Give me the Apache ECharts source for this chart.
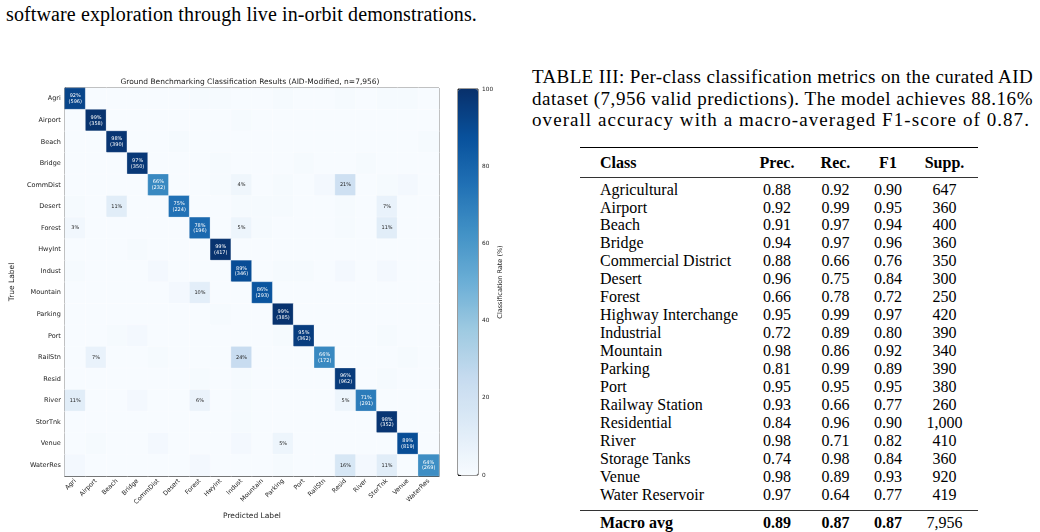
<!DOCTYPE html>
<html>
<head>
<meta charset="utf-8">
<script src="https://cdn.jsdelivr.net/npm/echarts@6/dist/echarts.min.js"></script>
<style>
  body { margin: 0; width: 1040px; height: 532px; overflow: hidden; background: #fff;
         font-family: "Liberation Serif", "Times New Roman", serif; color: #000; position: relative; }
  #chartConfusion { position: absolute; left: 0; top: 0; width: 520px; height: 532px; }
  .topline { position: absolute; left: 6px; top: 4px; font-size: 20px; line-height: 20px; white-space: nowrap; }
  .caption { position: absolute; left: 532px; top: 66px; width: 501px; font-size: 19px; line-height: 21.7px; }
  .caption div { white-space: nowrap; }
  .rule { position: absolute; left: 580px; width: 398px; }
  .row { position: absolute; left: 580px; width: 398px; height: 18px; line-height: 18px; font-size: 16px;
         display: grid; grid-template-columns: 168px 58px 59px 46px 67px; }
  .row span { text-align: center; }
  .row span:first-child { text-align: left; padding-left: 20px; }
  .row.bold { font-weight: bold; }
</style>
</head>
<body>
<div class="topline" id="topline">software exploration through live in-orbit demonstrations.</div>
<div id="chartConfusion"></div>
<div class="caption">
  <div class="cl" data-w="501">TABLE III: Per-class classification metrics on the curated AID</div>
  <div class="cl" data-w="501">dataset (7,956 valid predictions). The model achieves 88.16%</div>
  <div class="cl" data-w="498">overall accuracy with a macro-averaged F1-score of 0.87.</div>
</div>
<div id="metricsTable"></div>
<script>
// confusion matrix (row-normalised %, true label = row)
const classes = ["Agri", "Airport", "Beach", "Bridge", "CommDist", "Desert", "Forest", "HwyInt", "Indust",
    "Mountain", "Parking", "Port", "RailStn", "Resid", "River", "StorTnk", "Venue", "WaterRes"];
const diagCounts = [596, 358, 390, 350, 232, 224, 196, 417, 346, 293, 385, 362, 172, 962, 291, 352, 819, 269];
const pctRows = [
    [92, 0, 0, 0, 0, 0, 1, 1, 0, 0, 1, 0, 0, 1, 0, 1, 1, 0],
    [0, 99, 0, 0, 0, 0, 0, 0, 1, 0, 0, 0, 0, 0, 0, 0, 0, 0],
    [0, 0, 98, 0, 0, 1, 0, 0, 0, 0, 0, 0, 0, 0, 0, 0, 0, 1],
    [0, 0, 0, 97, 0, 0, 0, 1, 0, 0, 0, 1, 0, 0, 1, 0, 0, 0],
    [0, 0, 0, 0, 66, 0, 0, 1, 4, 0, 1, 0, 2, 21, 0, 1, 2, 0],
    [1, 0, 11, 0, 0, 75, 0, 0, 1, 1, 1, 0, 0, 1, 0, 7, 0, 0],
    [3, 0, 0, 0, 0, 0, 78, 0, 5, 1, 0, 0, 0, 1, 0, 11, 0, 0],
    [0, 0, 0, 1, 0, 0, 0, 99, 0, 0, 0, 0, 0, 0, 0, 0, 0, 0],
    [1, 0, 0, 0, 2, 0, 0, 0, 89, 0, 1, 1, 0, 2, 0, 2, 0, 0],
    [0, 0, 0, 0, 0, 2, 10, 0, 0, 86, 0, 0, 0, 0, 0, 0, 0, 0],
    [0, 0, 0, 0, 0, 0, 0, 1, 0, 0, 99, 0, 0, 0, 0, 0, 0, 0],
    [0, 0, 1, 2, 0, 0, 0, 0, 0, 0, 1, 95, 0, 0, 0, 1, 0, 0],
    [0, 7, 0, 0, 1, 0, 0, 0, 24, 0, 0, 0, 66, 0, 0, 0, 1, 0],
    [0, 0, 0, 0, 0, 0, 1, 0, 1, 0, 0, 0, 0, 96, 0, 1, 0, 0],
    [11, 0, 0, 2, 0, 0, 6, 0, 1, 0, 0, 0, 0, 5, 71, 0, 0, 0],
    [0, 0, 0, 0, 0, 0, 0, 0, 1, 0, 0, 0, 0, 0, 0, 98, 0, 0],
    [0, 1, 0, 0, 2, 0, 0, 0, 2, 0, 5, 0, 0, 0, 0, 0, 89, 0],
    [2, 0, 0, 0, 0, 0, 2, 0, 0, 0, 1, 0, 0, 16, 2, 11, 0, 64]
];
const colorbarTicks = [0, 20, 40, 60, 80, 100];

// table III
const tableClasses = ["Agricultural", "Airport", "Beach", "Bridge", "Commercial District", "Desert", "Forest",
    "Highway Interchange", "Industrial", "Mountain", "Parking", "Port", "Railway Station", "Residential",
    "River", "Storage Tanks", "Venue", "Water Reservoir"];
const precision = ["0.88", "0.92", "0.91", "0.94", "0.88", "0.96", "0.66", "0.95", "0.72", "0.98", "0.81", "0.95", "0.93", "0.84", "0.98", "0.74", "0.98", "0.97"];
const recall = ["0.92", "0.99", "0.97", "0.97", "0.66", "0.75", "0.78", "0.99", "0.89", "0.86", "0.99", "0.95", "0.66", "0.96", "0.71", "0.98", "0.89", "0.64"];
const f1 = ["0.90", "0.95", "0.94", "0.96", "0.76", "0.84", "0.72", "0.97", "0.80", "0.92", "0.89", "0.95", "0.77", "0.90", "0.82", "0.84", "0.93", "0.77"];
const support = ["647", "360", "400", "360", "350", "300", "250", "420", "390", "340", "390", "380", "260", "1,000", "410", "360", "920", "419"];
const macroAvg = ["Macro avg", "0.89", "0.87", "0.87", "7,956"];

// ---- stretch caption lines to the column width ----
document.querySelectorAll(".caption .cl").forEach(el => {
    const target = +el.dataset.w;
    const txt = el.textContent.trim();
    el.style.display = "inline-block";
    const w = el.getBoundingClientRect().width;
    el.style.display = "block";
    el.style.letterSpacing = ((target - w) / txt.length) + "px";
});
(function () {
    const el = document.getElementById("topline");
    const w = el.getBoundingClientRect().width;
    el.style.letterSpacing = ((471 - w) / el.textContent.length) + "px";
})();

// ---- build table ----
const tbl = document.getElementById("metricsTable");
function addRow(cells, centerY, bold) {
    const r = document.createElement("div");
    r.className = "row" + (bold ? " bold" : "");
    r.style.top = (centerY - 9.4) + "px";
    cells.forEach(c => { const s = document.createElement("span"); s.textContent = c; r.appendChild(s); });
    tbl.appendChild(r);
}
function addRule(y, h, color) {
    const d = document.createElement("div");
    d.className = "rule";
    d.style.top = y + "px"; d.style.height = h + "px"; d.style.background = color;
    tbl.appendChild(d);
}
addRule(146.5, 1.5, "#000");
addRow(["Class", "Prec.", "Rec.", "F1", "Supp."], 163, true);
addRule(176.5, 1, "#333");
tableClasses.forEach((c, i) => addRow([c, precision[i], recall[i], f1[i], support[i]], 190 + i * 17.94, false));
addRule(509.5, 1, "#333");
addRow(macroAvg, 523, true);
tbl.lastChild.lastChild.style.fontWeight = "normal";

// ---- confusion matrix ----
const blues = ["#f7fbff", "#deebf7", "#c6dbef", "#9ecae1", "#6baed6", "#4292c6", "#2171b5", "#08519c", "#08306b"];
const cells = [];
pctRows.forEach((row, r) => row.forEach((p, c) => {
    cells.push({ value: [c, r, p], label: { color: p > 50 ? "#fff" : "#262626" } });
}));

const font = "DejaVu Sans";
var chartConfusion = echarts.init(document.getElementById("chartConfusion"));
chartConfusion.setOption({
    animation: false,
    title: {
        text: "Ground Benchmarking Classification Results (AID-Modified, n=7,956)",
        left: 245, top: 73, textAlign: "center",
        textStyle: { fontFamily: font, fontSize: 7.5, fontWeight: "normal", color: "#222" }
    },
    grid: [
        { left: 52, top: 88, width: 387, height: 388, show: true, borderColor: "#000", borderWidth: 0.8 },
        { left: 458, top: 89, width: 20, height: 386, show: true, borderColor: "#000", borderWidth: 0.8 }
    ],
    xAxis: [
        {
            type: "category", data: classes, gridIndex: 0,
            name: "Predicted Label", nameLocation: "middle", nameGap: 28,
            nameTextStyle: { fontFamily: font, fontSize: 7.5, color: "#222" },
            axisLine: { lineStyle: { color: "#000", width: 0.8 } },
            axisTick: { alignWithLabel: true, length: 3, lineStyle: { color: "#000", width: 0.8 } },
            axisLabel: { rotate: 45, fontSize: 6.3, margin: 4, interval: 0, color: "#222", fontFamily: font },
            splitLine: { show: false }
        },
        { type: "value", gridIndex: 1, show: false }
    ],
    yAxis: [
        {
            type: "category", data: classes, gridIndex: 0, inverse: true,
            name: "True Label", nameLocation: "middle", nameGap: 35, nameRotate: 90,
            nameTextStyle: { fontFamily: font, fontSize: 7.5, color: "#222" },
            axisLine: { lineStyle: { color: "#000", width: 0.8 } },
            axisTick: { alignWithLabel: true, length: 3, lineStyle: { color: "#000", width: 0.8 } },
            axisLabel: { fontSize: 6.5, margin: 4, interval: 0, color: "#222", fontFamily: font },
            splitLine: { show: false }
        },
        {
            type: "value", gridIndex: 1, position: "right", min: 0, max: 100, interval: 20,
            name: "Classification Rate (%)", nameLocation: "middle", nameGap: 19, nameRotate: 90,
            nameTextStyle: { fontFamily: font, fontSize: 6.5, color: "#222" },
            axisLine: { show: false },
            axisTick: { show: true, length: 3, lineStyle: { color: "#000", width: 0.8 } },
            axisLabel: {
                fontSize: 5.8, margin: 4, color: "#222", fontFamily: font,
                formatter: v => colorbarTicks.includes(v) ? String(v) : ""
            },
            splitLine: { show: false }
        }
    ],
    visualMap: {
        type: "continuous", min: 0, max: 100, seriesIndex: 0, calculable: false, hoverLink: false,
        orient: "vertical", left: 458, top: 89, itemWidth: 20, itemHeight: 386, padding: 0,
        inRange: { color: blues }
    },
    series: [
        {
            type: "heatmap", xAxisIndex: 0, yAxisIndex: 0, data: cells,
            itemStyle: { borderColor: "rgba(255,255,255,0.5)", borderWidth: 0.5 },
            emphasis: { disabled: true },
            label: {
                show: true, fontFamily: font, fontSize: 5, lineHeight: 5.8,
                formatter: function (p) {
                    const c = p.value[0], r = p.value[1], v = p.value[2];
                    if (c === r) return v + "%\n(" + diagCounts[r] + ")";
                    return v >= 3 ? v + "%" : "";
                }
            }
        }
    ]
});

window.addEventListener("resize", () => {
    if (chartConfusion) chartConfusion.resize();
});
</script>
</body>
</html>
